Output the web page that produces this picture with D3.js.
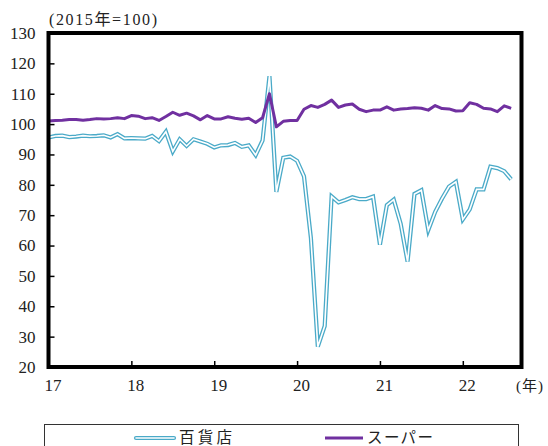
<!DOCTYPE html>
<html>
<head>
<meta charset="utf-8">
<script src="https://cdn.jsdelivr.net/npm/d3@7"></script>
<style>
  html, body { margin: 0; padding: 0; background: #fff; }
  svg { display: block; }
</style>
</head>
<body>
<div id="chart"></div>
<script>
// Monthly index, Jan 2017 – Aug 2022 (2015 = 100)
const yearLabels = ["17", "18", "19", "20", "21", "22"];
const yTicks = [20, 30, 40, 50, 60, 70, 80, 90, 100, 110, 120, 130];

// 百貨店 (department stores)
const deptStore = [
  95.6, 96.1, 96.2, 95.7, 95.9, 96.2, 96.0, 96.1, 96.3, 95.6, 96.7, 95.3,
  95.4, 95.3, 95.2, 96.1, 94.4, 97.5, 91.0, 95.0, 92.8, 95.0, 94.3, 93.5,
  92.3, 93.0, 93.1, 93.8, 92.5, 93.0, 89.8, 94.6, 115.8, 77.7, 88.9, 89.3,
  87.9, 82.8, 62.5, 26.7, 33.5, 76.2, 74.2, 75.0, 75.9, 75.3, 75.3, 76.1,
  60.3, 73.3, 75.1, 67.2, 54.7, 77.0, 78.2, 65.1, 71.1, 75.5, 79.4, 81.0,
  68.6, 71.9, 78.5, 78.5, 86.0, 85.5, 84.5, 81.8
];

// スーパー (supermarkets)
const superMarket = [
  101.0, 101.2, 101.3, 101.5, 101.5, 101.3, 101.5, 101.8, 101.7, 101.8, 102.1, 101.8,
  102.8, 102.6, 101.8, 102.1, 101.2, 102.5, 103.9, 102.9, 103.6, 102.7, 101.4, 102.8,
  101.7, 101.7, 102.4, 101.9, 101.6, 101.9, 100.5, 102.1, 110.0, 99.1, 100.9, 101.2,
  101.2, 104.9, 106.1, 105.5, 106.5, 107.9, 105.5, 106.3, 106.6, 104.9, 104.1, 104.6,
  104.6, 105.7, 104.6, 105.0, 105.1, 105.4, 105.2, 104.6, 106.1, 105.1, 105.0, 104.3,
  104.4, 107.0, 106.5, 105.2, 105.0, 104.1, 106.0, 105.2
];

const seriesNames = ["百貨店", "スーパー"];

const W = 548, H = 446;
const plot = { left: 48.5, right: 521.5, top: 33, bottom: 367 };
const numFont = "Liberation Serif, Times New Roman, serif";
const cjkFont = "Liberation Serif, Noto Sans CJK JP, serif";

const svg = d3.select("#chart").append("svg")
  .attr("width", W).attr("height", H);

const x = d3.scaleLinear().domain([0, 68.5]).range([plot.left, plot.right]);
const y = d3.scaleLinear().domain([20, 130]).range([plot.bottom, plot.top]);

// Unit note
svg.append("text")
  .attr("x", 49).attr("y", 25)
  .attr("font-size", 16).attr("font-family", cjkFont).attr("fill", "#222")
  .attr("textLength", 108).attr("lengthAdjust", "spacing")
  .text("(2015年=100)");

// Y axis: inward ticks, labels on the left
const yAxis = svg.append("g")
  .attr("transform", `translate(${plot.left},0)`)
  .call(d3.axisLeft(y).tickValues(yTicks).tickFormat(d3.format("d"))
    .tickSizeInner(-6).tickSizeOuter(0).tickPadding(13))
  .attr("font-family", numFont).attr("font-size", 17);
yAxis.select(".domain").remove();
yAxis.selectAll("line").attr("stroke", "#000").attr("stroke-width", 1.5);
yAxis.selectAll("text").attr("fill", "#222");

// X axis: a tick each January
const xAxis = svg.append("g")
  .attr("transform", `translate(0,${plot.bottom})`)
  .call(d3.axisBottom(x).tickValues(yearLabels.map((_, k) => k * 12))
    .tickFormat((d, k) => yearLabels[k])
    .tickSizeInner(-6).tickSizeOuter(0).tickPadding(12))
  .attr("font-family", numFont).attr("font-size", 17);
xAxis.select(".domain").remove();
xAxis.selectAll("line").attr("stroke", "#000").attr("stroke-width", 1.5);
xAxis.selectAll("text").attr("fill", "#222").attr("dx", 4);

svg.append("text")
  .attr("x", 516).attr("y", 391)
  .attr("font-size", 15).attr("font-family", cjkFont).attr("fill", "#222")
  .attr("textLength", 27).attr("lengthAdjust", "spacing")
  .text("(年)");

const line = d3.line().x((d, i) => x(i)).y(d => y(d));

const blue = "#4aaac8", purple = "#7030a0";

// Department stores: outlined (double) line
svg.append("path").datum(deptStore)
  .attr("d", line).attr("fill", "none")
  .attr("stroke", blue).attr("stroke-width", 4.2).attr("stroke-linejoin", "miter");
svg.append("path").datum(deptStore)
  .attr("d", line).attr("fill", "none")
  .attr("stroke", "#fff").attr("stroke-width", 1.6).attr("stroke-linejoin", "miter");

// Supermarkets: solid purple line
svg.append("path").datum(superMarket)
  .attr("d", line).attr("fill", "none")
  .attr("stroke", purple).attr("stroke-width", 3).attr("stroke-linejoin", "round");

// Plot frame
svg.append("rect")
  .attr("x", plot.left).attr("y", plot.top)
  .attr("width", plot.right - plot.left).attr("height", plot.bottom - plot.top)
  .attr("fill", "none").attr("stroke", "#000").attr("stroke-width", 4);

// Legend
const legend = svg.append("g");
legend.append("rect")
  .attr("x", 44.5).attr("y", 424.5).attr("width", 474).attr("height", 40)
  .attr("fill", "none").attr("stroke", "#333").attr("stroke-width", 1);

const ly = 438;
legend.append("line").attr("x1", 136).attr("x2", 174).attr("y1", ly).attr("y2", ly)
  .attr("stroke", blue).attr("stroke-width", 4.2).attr("stroke-linecap", "round");
legend.append("line").attr("x1", 136).attr("x2", 174).attr("y1", ly).attr("y2", ly)
  .attr("stroke", "#fff").attr("stroke-width", 1.6).attr("stroke-linecap", "round");
legend.append("text").attr("x", 179).attr("y", 443)
  .attr("font-size", 15.5).attr("font-family", "Noto Sans CJK JP").attr("fill", "#222")
  .attr("textLength", 53).attr("lengthAdjust", "spacing")
  .text(seriesNames[0]);

legend.append("line").attr("x1", 325).attr("x2", 363).attr("y1", ly).attr("y2", ly)
  .attr("stroke", purple).attr("stroke-width", 3);
legend.append("text").attr("x", 367).attr("y", 443)
  .attr("font-size", 15.5).attr("font-family", "Noto Sans CJK JP").attr("fill", "#222")
  .attr("textLength", 66).attr("lengthAdjust", "spacing")
  .text(seriesNames[1]);
</script>
</body>
</html>
